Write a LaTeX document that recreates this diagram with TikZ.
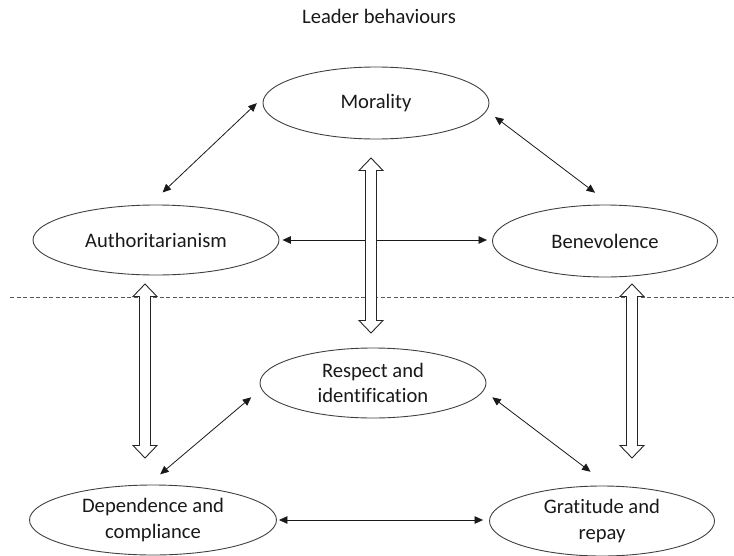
\documentclass[tikz,border=0pt]{standalone}
\usepackage{fontspec}
\setmainfont{Carlito}[Ligatures=NoCommon]
\usetikzlibrary{arrows.meta,shapes.geometric}
\tikzset{
  lbl/.style={font=\fontsize{20.6}{25.5}\selectfont, text=black!90},
  ell/.style={ellipse, draw=black!75, line width=0.9pt, inner sep=0pt, align=center, lbl},
  dbl/.style={{Triangle[length=8.5pt,width=7.5pt]}-{Triangle[length=8.5pt,width=7.5pt]}, line width=0.8pt, draw=black!90},
  hollow/.style={draw=black!85, fill=white, line width=0.9pt},
  divider/.style={draw=black!65, line width=0.8pt, dash pattern=on 4pt off 2.5pt},
  pics/hollowv/.style={code={
    \draw[hollow] (0,0) -- (12,12.5) -- (5.5,12.5) -- (5.5,#1-12.5) -- (12,#1-12.5)
      -- (0,#1) -- (-12,#1-12.5) -- (-5.5,#1-12.5) -- (-5.5,12.5) -- (-12,12.5) -- cycle;}}
}
\begin{document}
\begin{tikzpicture}[x=1pt,y=-1pt]
\useasboundingbox (0,0) rectangle (734,555);

\node[lbl, anchor=base] (title) at (379,23) {Leader behaviours};

\node[ell, minimum width=226pt, minimum height=72pt] (mor) at (376,103) {Morality};
\node[ell, minimum width=246pt, minimum height=70pt] (aut) at (156,240) {Authoritarianism};
\node[ell, minimum width=225pt, minimum height=72pt] (ben) at (605,241) {Benevolence};
\node[ell, minimum width=226pt, minimum height=70pt] (res) at (373,383) {Respect and\\identification};
\node[ell, minimum width=247pt, minimum height=70pt] (dep) at (153,520) {Dependence and\\compliance};
\node[ell, minimum width=225pt, minimum height=70pt] (gra) at (602,521) {Gratitude and\\repay};

% dashed divider
\draw[divider] (10,297) -- (734,297);

% thin double-headed arrows
\draw[dbl, shorten <=11.5pt, shorten >=17.6pt] (mor.176.5) -- (aut.100.8);
\draw[dbl, shorten <=10.2pt, shorten >=19.7pt] (mor.356.5) -- (ben.81.2);
\draw[dbl, shorten <=3pt, shorten >=5pt] (aut.east) -- (aut.east -| ben.west);
\draw[dbl, shorten <=13pt, shorten >=15.9pt] (res.183.5) -- (dep.98.6);
\draw[dbl, shorten <=10.8pt, shorten >=23pt] (res.356.2) -- (gra.79.8);
\draw[dbl, shorten <=2pt, shorten >=6pt] (dep.east) -- (dep.east -| gra.west);

% hollow vertical double arrows
\pic at (371,158) {hollowv=175};
\pic at (145,284) {hollowv=174};
\pic at (632,284) {hollowv=174};
\end{tikzpicture}
\end{document}
